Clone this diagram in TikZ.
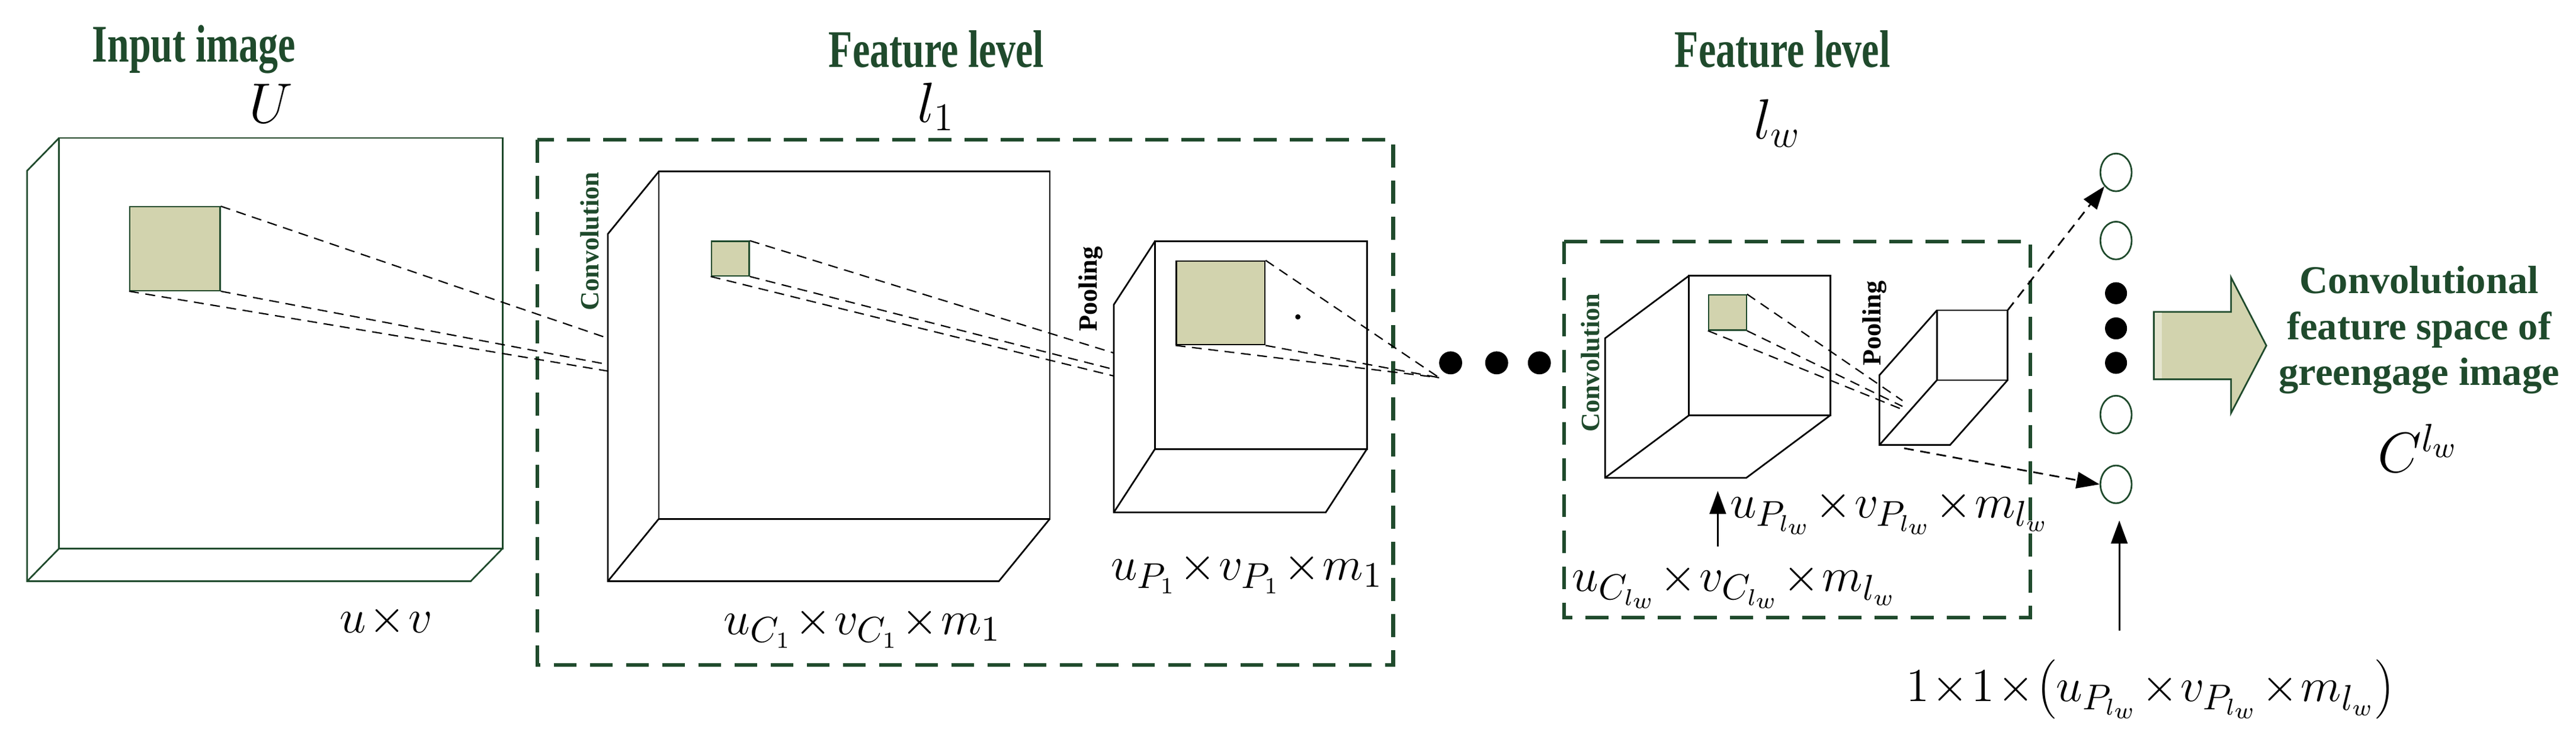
\documentclass[tikz,border=0pt]{standalone}
\usepackage{fontspec}
\setmainfont{Liberation Serif}
\usetikzlibrary{arrows.meta,calc,shapes.geometric}
\definecolor{dg}{HTML}{1F4A2C}
\definecolor{olive}{HTML}{D2D3AE}
\newcommand\mycube[7][black]{%
 \draw[#1,line width=0.5pt] (#2,#3) rectangle (#4,#5);
 \draw[#1,line width=0.5pt] (#2,#3)--++(#6,#7)--($(#2,#5)+(#6,#7)$)--($(#4,#5)+(#6,#7)$)--(#4,#5);
 \draw[#1,line width=0.5pt] (#2,#5)--++(#6,#7);}
\newcommand\tx{\!\times\!}
\begin{document}
\begin{tikzpicture}[x=0.5pt,y=-0.5pt,
 ttl/.style={text=dg,font=\bfseries\fontsize{14}{15}\selectfont,yscale=1.15,xscale=0.85},
 lab/.style={font=\bfseries\fontsize{8}{9}\selectfont,rotate=90},
 mth/.style={font=\fontsize{15}{18}\selectfont},
 big/.style={font=\fontsize{18}{20}\selectfont},
 patch/.style={draw=dg,fill=olive,line width=0.4pt,inner sep=0pt},
 dl/.style={densely dashed,line width=0.4pt},
 fbox/.style={dg,dash pattern=on 7pt off 4pt,line width=1.1pt},
 ar/.style={-{Triangle[length=7pt,width=5pt]},line width=0.5pt}]
\useasboundingbox (0,0) rectangle (1568,458);
% titles
\node[ttl] (t1) at (118,30) {Input image};
\node[big] (U) at (165,63) {$U$};
\node[ttl] (t2) at (570,30) {Feature level};
\node[big] (l1) at (570,65) {$l_1$};
\node[ttl] (t3) at (1085,30) {Feature level};
\node[big] (lw) at (1082,75) {$l_w$};
% dashed boxes
\draw[fbox] (327,85) rectangle (848,405);
\draw[fbox] (952,147) rectangle (1236,376);
% cubes
\mycube[dg]{36}{84}{306}{334}{-19.5}{20}
\mycube{401}{104.5}{639}{316}{-31}{38}
\mycube{703}{147}{832}{273.5}{-25}{38.5}
\mycube{1028}{168}{1114}{253}{-51}{38}
\mycube{1179}{189}{1222}{231.5}{-35}{39.5}
% patches
\node[patch,minimum width=27.5pt,minimum height=25.5pt] (p1) at (106.5,151.5) {};
\node[patch,minimum width=11.5pt,minimum height=10.5pt] (p2) at (444.5,157.5) {};
\node[patch,minimum width=27pt,minimum height=25.5pt,draw=black] (p3) at (743,184.5) {};
\node[patch,minimum width=11.5pt,minimum height=10.75pt] (p4) at (1051.5,190.3) {};
\fill (790,193) circle (1.6);
% projection lines
\coordinate (a1) at (370,206); \coordinate (a2) at (370,222); \coordinate (a3) at (370,226);
\draw[dl] (p1.north east)--(a1); \draw[dl] (p1.south east)--(a2); \draw[dl] (p1.south west)--(a3);
\coordinate (b1) at (678,215); \coordinate (b2) at (678,225); \coordinate (b3) at (678,229);
\draw[dl] (p2.north east)--(b1); \draw[dl] (p2.south east)--(b2); \draw[dl] (p2.south west)--(b3);
\coordinate (c1) at (876,230);
\draw[dl] (p3.north east)--(c1); \draw[dl] (p3.south east)--(c1); \draw[dl] (p3.south west)--(c1);
\coordinate (d1) at (1158,244); \coordinate (d2) at (1158,247.5); \coordinate (d3) at (1157,249);
\draw[dl] (p4.north east)--(d1); \draw[dl] (p4.south east)--(d2); \draw[dl] (p4.south west)--(d3);
% side labels
\node[lab,text=dg] (cv1) at (359,147) {Convolution};
\node[lab] (pl1) at (664,176) {Pooling};
\node[lab,text=dg] (cv2) at (968,221) {Convolution};
\node[lab] (pl2) at (1141,197) {Pooling};
% dots
\foreach \x/\n in {883/da,911/db,937/dc} \fill (\x,221) circle (7) coordinate (\n);
% neuron column
\foreach \y/\n in {105/n1,146.5/n2,252.5/n3,295/n4}
  \node[draw=dg,ellipse,line width=0.5pt,minimum width=9.5pt,minimum height=11.5pt,inner sep=0pt] (\n) at (1288,\y) {};
\foreach \y in {178.6,200,221} \fill (1288,\y) circle (6.7);
\coordinate (q1) at (1222,189); \coordinate (q2) at (1159,273);
\draw[dl,ar] (q1)--(n1.south west);
\draw[dl,ar] (q2)--(n4.west);
% big arrow
\draw[dg,fill=olive,line width=0.5pt] (1311,190)--(1358,190)--(1358,169)--(1379.5,210.5)--(1358,251.6)--(1358,231)--(1311,231)--cycle;
\fill[olive!60!white] (1311.5,190.5) rectangle (1316,230.5);
\node[text=dg,align=center,font=\bfseries\fontsize{12}{14}\selectfont] (cfs) at (1472.5,201) {Convolutional\\feature space of\\greengage image};
\node[big] (C) at (1472,273) {$C^{l_w}$};
% captions
\node[mth] (s0) at (235,378) {$u\tx v$};
\node[mth] (s1) at (525,382) {$u_{C_1}\tx v_{C_1}\tx m_1$};
\node[mth] (s2) at (759,349) {$u_{P_1}\tx v_{P_1}\tx m_1$};
\node[mth,anchor=west] (s3) at (1046,312) {$u_{P_{l_w}}\tx v_{P_{l_w}}\tx m_{l_w}$};
\node[mth,anchor=west] (s4) at (950,357) {$u_{C_{l_w}}\tx v_{C_{l_w}}\tx m_{l_w}$};
\node[mth] (s5) at (1309,420) {$1\tx1\tx\left(u_{P_{l_w}}\tx v_{P_{l_w}}\tx m_{l_w}\right)$};
\coordinate (e1) at (1045.6,333); \coordinate (e2) at (1045.6,299);
\draw[ar] (e1)--(e2);
\coordinate (f1) at (1290,384); \coordinate (f2) at (1290,317);
\draw[ar] (f1)--(f2);
\end{tikzpicture}
\end{document}
